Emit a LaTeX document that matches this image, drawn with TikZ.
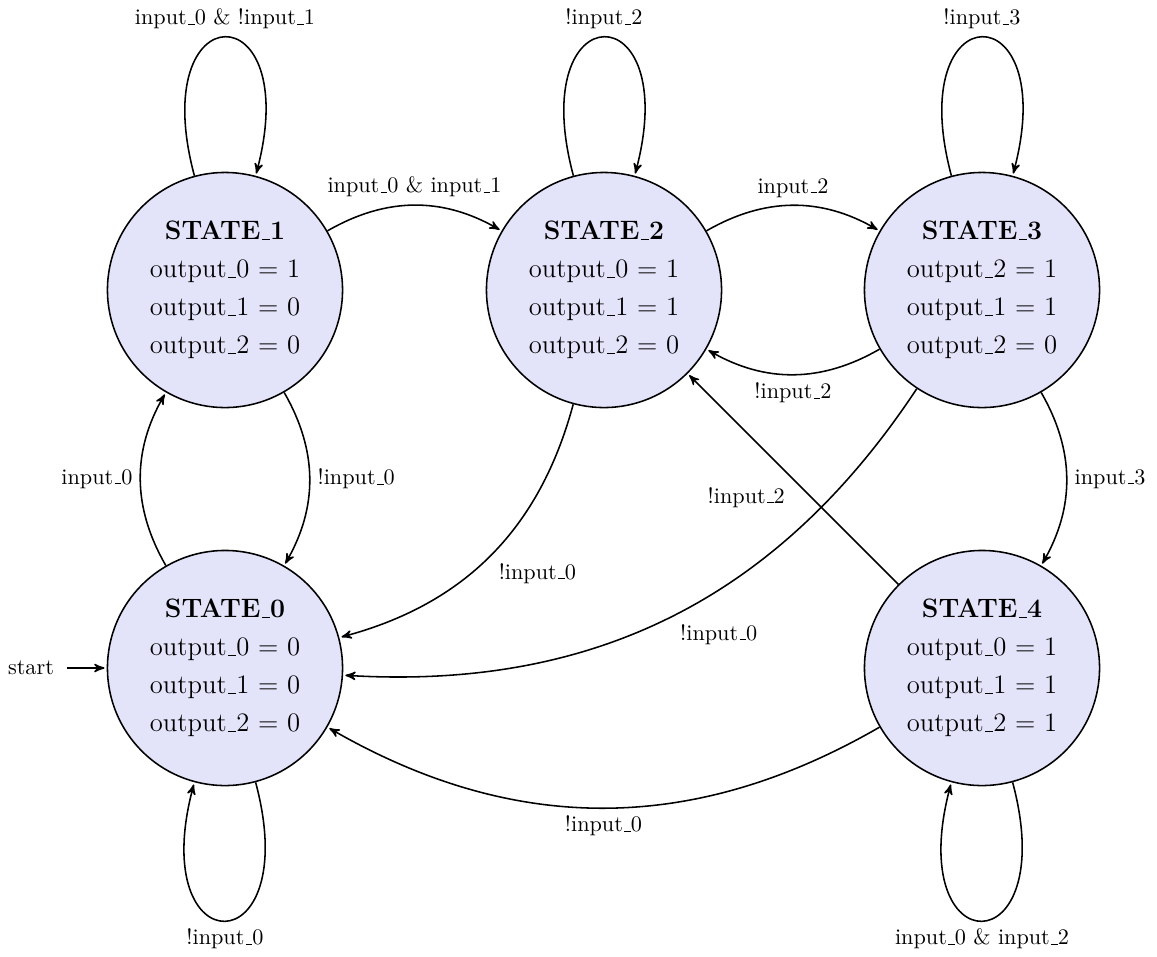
\documentclass[tikz,border=0pt]{standalone}
\usetikzlibrary{arrows,calc}
\definecolor{stfill}{RGB}{227,227,250}
% underscore drawn as a short rule on the baseline
\newcommand\usc{\leavevmode\kern.06em\vbox{\hrule width.3em}}
\begin{document}
\begin{tikzpicture}[x=0.45045pt,y=0.45045pt,
  >=stealth', line width=0.7pt, auto,
  stbox/.style={circle, draw=black, fill=stfill, minimum size=105.9pt,
    inner sep=0pt, align=center, font=\large},
  tr/.style={->, shorten >=1pt},
  every loop/.style={->, shorten >=1pt, looseness=8, min distance=5mm}]
\useasboundingbox (0,0) rectangle (1157,-956);

% states
\node[stbox] (s0) at (225,-668) {\textbf{STATE\usc 0}\\[3.1pt]
  output\usc 0 $=$ 0\\[3.1pt] output\usc 1 $=$ 0\\[3.1pt] output\usc 2 $=$ 0};
\node[stbox] (s1) at (225,-290) {\textbf{STATE\usc 1}\\[3.1pt]
  output\usc 0 $=$ 1\\[3.1pt] output\usc 1 $=$ 0\\[3.1pt] output\usc 2 $=$ 0};
\node[stbox] (s2) at (604,-290) {\textbf{STATE\usc 2}\\[3.1pt]
  output\usc 0 $=$ 1\\[3.1pt] output\usc 1 $=$ 1\\[3.1pt] output\usc 2 $=$ 0};
\node[stbox] (s3) at (982,-290) {\textbf{STATE\usc 3}\\[3.1pt]
  output\usc 2 $=$ 1\\[3.1pt] output\usc 1 $=$ 1\\[3.1pt] output\usc 2 $=$ 0};
\node[stbox] (s4) at (982,-668) {\textbf{STATE\usc 4}\\[3.1pt]
  output\usc 0 $=$ 1\\[3.1pt] output\usc 1 $=$ 1\\[3.1pt] output\usc 2 $=$ 1};

% initial marker
\node (start) at (31,-668) {start};
\draw[tr, shorten <=2pt] (start) -- (s0);

% transitions
\draw[tr] (s0) to[bend left] node {input\usc 0} (s1);
\draw[tr] (s1) to[bend left] node {!input\usc 0} (s0);
\draw[tr] (s1) to[bend left] node {input\usc 0 \& input\usc 1} (s2);
\draw[tr] (s2) to[bend left] node {input\usc 2} (s3);
\draw[tr] (s3) to[bend left] node {!input\usc 2} (s2);
\draw[tr] (s2) to[bend left] node {!input\usc 0} (s0);
\draw[tr] (s3) to[bend left] node {!input\usc 0} (s0);
\draw[tr] (s4) to node {!input\usc 2} (s2);
\draw[tr] (s3) to[bend left] node {input\usc 3} (s4);
\draw[tr] (s4) to[bend left] node {!input\usc 0} (s0);

% self loops
\path (s1) edge[loop above] node {input\usc 0 \& !input\usc 1} (s1);
\path (s2) edge[loop above] node {!input\usc 2} (s2);
\path (s3) edge[loop above] node {!input\usc 3} (s3);
\path (s0) edge[loop below] node {!input\usc 0} (s0);
\path (s4) edge[loop below] node {input\usc 0 \& input\usc 2} (s4);
\end{tikzpicture}
\end{document}
